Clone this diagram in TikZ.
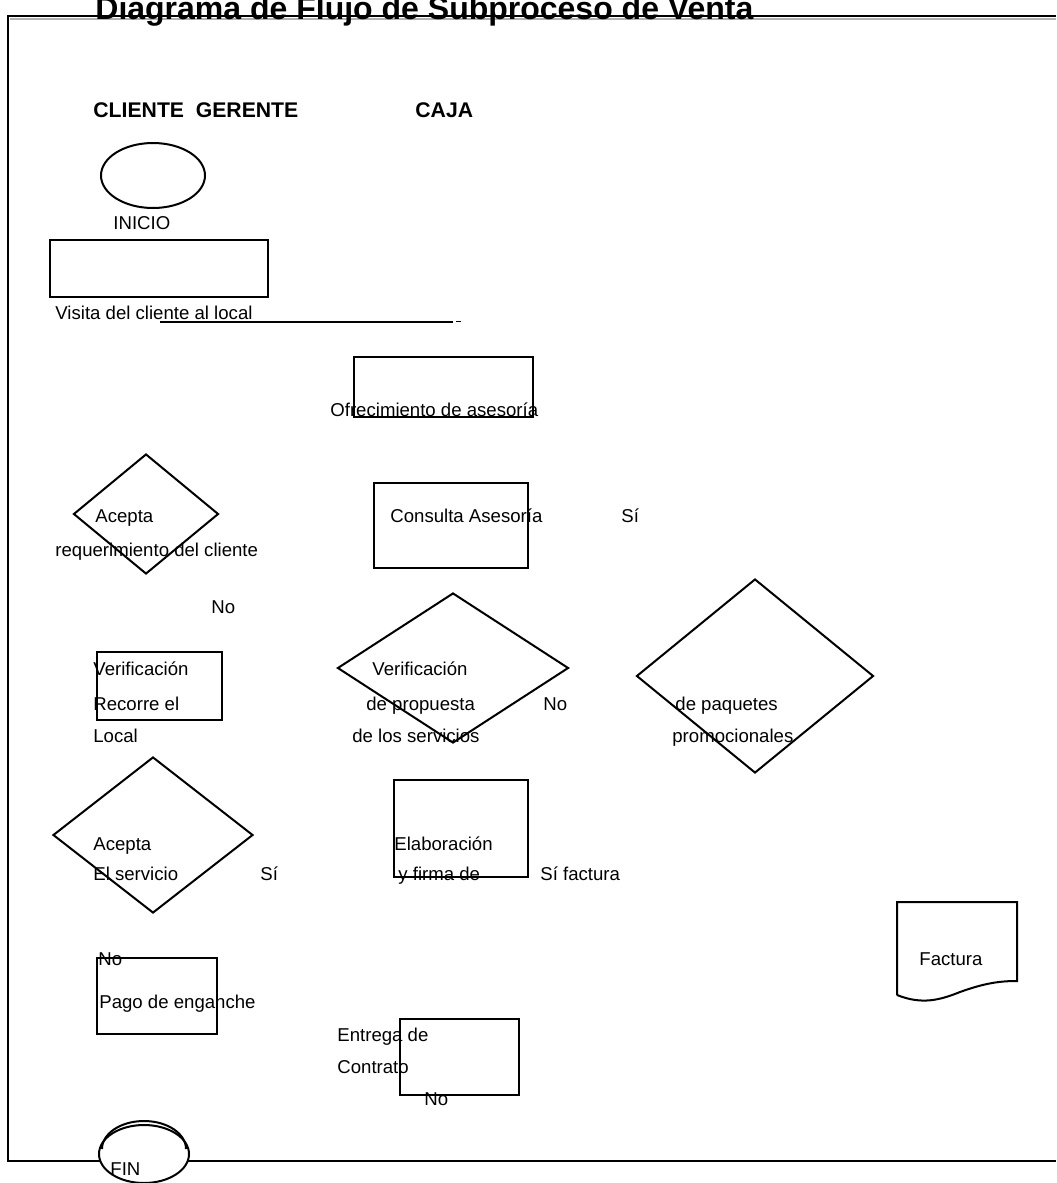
\documentclass[tikz,border=0pt]{standalone}
\usepackage{fontspec}
\setmainfont{Liberation Sans}
\usetikzlibrary{shapes.geometric, positioning}

\begin{document}
\begin{tikzpicture}[x=0.5pt, y=-0.5pt]
    \tikzstyle{box}=[rectangle, draw, line width=1pt, inner sep=0pt]
    \tikzstyle{decision}=[diamond, draw, line width=1pt, inner sep=0pt]
    \tikzstyle{terminal}=[ellipse, draw, fill=white, line width=1pt, inner sep=0pt]
    \tikzstyle{txt}=[anchor=base west, inner sep=0pt, font=\fontsize{9.3}{11}\selectfont]
    \tikzstyle{heading}=[anchor=base west, inner sep=0pt, font=\fontsize{10.6}{12}\selectfont\bfseries]
    \tikzstyle{titulo}=[anchor=base west, inner sep=0pt, font=\fontsize{16}{18}\selectfont\bfseries]

    \useasboundingbox (0,0) rectangle (1056,1183);

    % Frame
    \coordinate (ftl) at (8,16);
    \coordinate (ftr) at (1056,16);
    \coordinate (fbl) at (8,1161);
    \coordinate (fbr) at (1056,1161);
    \draw[gray!60, line width=1pt] (10,19) -- (1056,19);
    \draw[line width=1.2pt] (ftr) -- (ftl) -- (fbl) -- (fbr);

    % Title and lanes
    \node[titulo] (title) at (95,19) {Diagrama de Flujo de Subproceso de Venta};
    \node[heading] (cliente) at (93,117) {CLIENTE~ GERENTE};
    \node[heading] (caja) at (415,117) {CAJA};

    % Shapes
    \node[terminal, minimum width=52pt, minimum height=32.5pt] (inicio) at (153,175.5) {};
    \node[box, minimum width=109pt, minimum height=28.5pt] (visita) at (159,268.5) {};
    \node[box, minimum width=89.5pt, minimum height=30pt] (ofrece) at (443.5,387) {};
    \node[box, minimum width=77pt, minimum height=42.5pt] (consulta) at (451,525.5) {};
    \node[decision, minimum width=72.5pt, minimum height=60pt] (acepreq) at (146,514) {};
    \node[box, minimum width=62.5pt, minimum height=34pt] (recorre) at (159.5,686) {};
    \node[decision, minimum width=115.5pt, minimum height=75pt] (verprop) at (453,668) {};
    \node[decision, minimum width=118.5pt, minimum height=97pt] (verpaq) at (755,676) {};
    \node[decision, minimum width=100pt, minimum height=78pt] (acepserv) at (153,835) {};
    \node[box, minimum width=67pt, minimum height=48.5pt] (elabora) at (461,828.5) {};
    \node[box, minimum width=60pt, minimum height=38pt] (pago) at (157,996) {};
    \node[box, minimum width=59.5pt, minimum height=38pt] (entrega) at (459.5,1057) {};
    \node[terminal, minimum width=45pt, minimum height=29pt] (fin) at (144,1154) {};
    \draw[line width=1pt] ([shift={(4,-5)}]fin.west) arc[start angle=180, end angle=0, x radius=21pt, y radius=14pt];

    % Document
    \coordinate (dtl) at (897,902);
    \coordinate (dtr) at (1017,902);
    \coordinate (dbl) at (897,995);
    \coordinate (dbr) at (1017,981);
    \draw[line width=1pt] (dbl) -- (dtl) -- (dtr) -- (dbr)
        .. controls (1000,981) and (985,983) .. (960,992)
        .. controls (940,1000) and (922,1005) .. (dbl);

    % Rule under the first step
    \coordinate (rini) at (160,322);
    \coordinate (rfin) at (453,322);
    \draw[line width=0.75pt] (rini) -- (rfin);
    \draw[line width=0.5pt] (456,321) -- (461,321);

    % Texts
    \foreach \x/\y/\name/\txt in {113/229/tinicio/INICIO,
            55/319/tvisita/Visita del cliente al local,
            330/416/tofrece/Ofrecimiento de asesoría,
            95/522/tacep/Acepta,
            55/556/treq/requerimiento del cliente,
            211/613/tnoa/No,
            390/522/tconsulta/Consulta Asesoría,
            621/522/tsia/Sí,
            93/675/tveri/Verificación,
            93/710/trecorre/Recorre el,
            93/742/tlocal/Local,
            372/675/tverib/Verificación,
            366/710/tprop/de propuesta,
            352/742/tserv/de los servicios,
            543/710/tnob/No,
            675/710/tpaq/de paquetes,
            672/742/tpromo/promocionales,
            93/850/tacepb/Acepta,
            93/880/telserv/El servicio,
            260/880/tsib/Sí,
            394/850/telab/Elaboración,
            398/880/tfirma/y firma de,
            540/880/tsifac/Sí factura,
            919/965/tfactura/Factura,
            98/965/tnoc/No,
            99/1008/tpago/Pago de enganche,
            337/1041/tentrega/Entrega de,
            337/1073/tcontrato/Contrato,
            424/1105/tnod/No,
            110/1175/tfin/FIN} {
        \node[txt] (\name) at (\x,\y) {\txt};
    }
\end{tikzpicture}
\end{document}
